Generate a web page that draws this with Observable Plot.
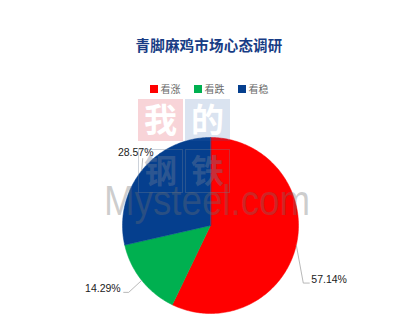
<!DOCTYPE html>
<html>
<head>
<meta charset="utf-8">
<script src="https://cdn.jsdelivr.net/npm/d3@7"></script>
<script src="https://cdn.jsdelivr.net/npm/@observablehq/plot@0.6"></script>
<style>
  body { margin: 0; background: #fff; }
  #chart { position: relative; width: 418px; height: 333px; overflow: hidden; font-family: "Noto Sans CJK SC", sans-serif; }
  #title { position: absolute; left: 0; top: 35px; width: 418px; text-align: center; font-size: 14.5px; font-weight: bold; color: #173c85; line-height: 20px; letter-spacing: 0.2px; }
  #legend { position: absolute; left: 0; top: 81px; width: 418px; display: flex; justify-content: center; gap: 13px; font-size: 10px; line-height: 16px; color: #6b6b6b; }
  #legend .item { display: flex; align-items: center; gap: 3px; }
  #legend .sw { width: 8px; height: 8px; }
  #plot { position: absolute; left: 0; top: 100px; }
  #wm { position: absolute; left: 0; top: 0; pointer-events: none; }
</style>
</head>
<body>
<div id="chart">
  <div id="title"></div>
  <div id="legend"></div>
  <div id="plot"></div>
  <svg id="wm" width="418" height="333">
    <rect x="138" y="99" width="45" height="42" fill="rgba(222,40,60,0.2)"/>
    <rect x="185" y="99" width="45" height="42" fill="rgba(50,100,170,0.18)"/>
    <text x="160.5" y="132" text-anchor="middle" font-size="33" font-weight="bold" fill="#fff" font-family="Noto Sans CJK SC">我</text>
    <text x="207.5" y="132" text-anchor="middle" font-size="33" font-weight="bold" fill="#fff" font-family="Noto Sans CJK SC">的</text>
    <rect x="138.5" y="149.5" width="44" height="43" fill="none" stroke="rgba(110,125,150,0.35)"/>
    <rect x="185.5" y="149.5" width="44" height="43" fill="none" stroke="rgba(110,125,150,0.35)"/>
    <text x="160.5" y="183" text-anchor="middle" font-size="33" font-weight="bold" fill="rgba(110,125,150,0.38)" font-family="Noto Sans CJK SC">钢</text>
    <text x="207.5" y="183" text-anchor="middle" font-size="33" font-weight="bold" fill="rgba(110,125,150,0.38)" font-family="Noto Sans CJK SC">铁</text>
    <text x="104" y="215" font-size="42" textLength="206" lengthAdjust="spacingAndGlyphs" fill="rgba(110,110,110,0.34)" font-family="Liberation Sans, Arial, sans-serif">Mysteel.com</text>
  </svg>
</div>
<script>
// Survey: market sentiment for green-foot hemp chicken
const title = "青脚麻鸡市场心态调研";
const categories = ["看涨", "看跌", "看稳"];
const shares = [57.14, 14.29, 28.57];
const colors = ["#FF0000", "#00B050", "#053F8E"];

document.getElementById("title").textContent = title;
const legend = document.getElementById("legend");
categories.forEach((c, i) => {
  const item = document.createElement("div");
  item.className = "item";
  const sw = document.createElement("div");
  sw.className = "sw";
  sw.style.background = colors[i];
  const label = document.createElement("span");
  label.textContent = c;
  item.append(sw, label);
  legend.append(item);
});

// Geometry: pie radius in pixels and centre position inside the SVG
const W = 418, H = 233, R = 88, cx = 210, cy = 125;

// Slices start at 12 o'clock and run clockwise, in data order
const arcs = d3.pie().sort(null).value(d => d)(shares);
const slicePts = arcs.flatMap((a, i) => {
  const cat = categories[i];
  const n = Math.max(2, Math.ceil((a.endAngle - a.startAngle) / (Math.PI / 180)));
  const pts = [{cat, x: 0, y: 0}];
  for (let k = 0; k <= n; k++) {
    const t = a.startAngle + (a.endAngle - a.startAngle) * k / n;
    pts.push({cat, x: Math.sin(t), y: Math.cos(t)});
  }
  return pts;
});

// Leader-line placement (pixel offsets from each slice's outer mid point)
const leaderLayout = {
  "看涨": {path: [[7, 38], [13, 38]], label: [15, 35], anchor: "start"},
  "看跌": {path: [[-13, 12], [-18, 12]], label: [-21, 8], anchor: "end"},
  "看稳": {path: [[1, -12]], label: [-6, -18], anchor: "middle"}
};
const leaders = [];
const labels = [];
arcs.forEach((a, i) => {
  const cat = categories[i];
  const mid = (a.startAngle + a.endAngle) / 2;
  const ex = Math.sin(mid), ey = Math.cos(mid);
  const lay = leaderLayout[cat];
  leaders.push({cat, x: ex, y: ey});
  lay.path.forEach(([dx, dy]) => leaders.push({cat, x: ex + dx / R, y: ey - dy / R}));
  labels.push({cat, anchor: lay.anchor, x: ex + lay.label[0] / R, y: ey - lay.label[1] / R, text: shares[i].toFixed(2) + "%"});
});

const labelMark = anchor => Plot.text(labels.filter(d => d.anchor === anchor), {
  x: "x", y: "y", text: "text", textAnchor: anchor,
  fontSize: 10.5, fill: "#1a1a1a", fontFamily: "Liberation Sans, Arial, sans-serif"
});

const chart = Plot.plot({
  width: W,
  height: H,
  margin: 0,
  x: {domain: [-cx / R, (W - cx) / R], range: [0, W], axis: null},
  y: {domain: [-(H - cy) / R, cy / R], range: [H, 0], axis: null},
  color: {domain: categories, range: colors},
  style: {background: "transparent", overflow: "visible"},
  marks: [
    Plot.line(slicePts, {x: "x", y: "y", z: "cat", fill: "cat", stroke: "cat", strokeWidth: 0.5, curve: "linear-closed"}),
    Plot.line(leaders, {x: "x", y: "y", z: "cat", stroke: "#a6a6a6", strokeWidth: 0.8}),
    labelMark("start"),
    labelMark("end"),
    labelMark("middle")
  ]
});
document.getElementById("plot").append(chart);
</script>
</body>
</html>
